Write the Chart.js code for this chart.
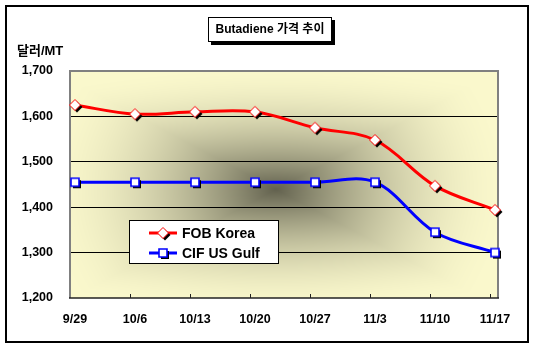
<!DOCTYPE html>
<html>
<head>
<meta charset="utf-8">
<script src="https://cdn.jsdelivr.net/npm/chart.js@4.4.1/dist/chart.umd.min.js"></script>
<style>
html,body{margin:0;padding:0;background:#fff}
canvas{display:block}
</style>
</head>
<body>
<canvas id="chart" width="535" height="351"></canvas>
<script>
// data
const weeks = ['9/29','10/6','10/13','10/20','10/27','11/3','11/10','11/17'];
const fobKorea = [1625,1605,1610,1610,1575,1548,1447,1394];
const cifUsGulf = [1455,1455,1455,1455,1455,1455,1345,1300];
const yTicks = [1200,1300,1400,1500,1600,1700];
const seriesNames = ['FOB Korea','CIF US Gulf'];
const chartTitle = 'Butadiene 가격 추이';
const yUnit = '달러/MT';

const FONT = '"Liberation Sans", Arial, "Noto Sans CJK KR", sans-serif';

function $(id){return document.getElementById(id)}

// marker images with the little black drop shadow
function makeMarker(kind){
  const c = document.createElement('canvas'); c.width = 20; c.height = 20;
  const g = c.getContext('2d');
  function shape(ox, oy){
    g.beginPath();
    if(kind==='diamond'){
      g.moveTo(10+ox,4.5+oy); g.lineTo(15.5+ox,10+oy); g.lineTo(10+ox,15.5+oy); g.lineTo(4.5+ox,10+oy); g.closePath();
    } else {
      g.rect(6+ox,6+oy,8,8);
    }
  }
  shape(2,2); g.fillStyle = '#000'; g.fill();
  shape(0,0); g.fillStyle = '#fff'; g.fill();
  g.lineWidth = kind==='diamond' ? 1 : 1.6;
  g.strokeStyle = kind==='diamond' ? '#FF0000' : '#0000FF';
  g.stroke();
  return c;
}
const diamondImg = makeMarker('diamond');
const squareImg = makeMarker('square');

// "from center" shading of the plot area
const plotBg = {
  id:'plotBg',
  beforeDraw(chart){
    const {ctx, chartArea:a} = chart;
    const w = Math.round(a.right-a.left), h = Math.round(a.bottom-a.top);
    const off = document.createElement('canvas'); off.width = w; off.height = h;
    const octx = off.getContext('2d');
    const img = octx.createImageData(w,h);
    const light = [250,248,204], dark = [98,97,78];
    const cx = w*0.48, cy = h*0.52;
    for(let y=0;y<h;y++){
      for(let x=0;x<w;x++){
        const u = (x-cx)/(w/2), v = (y-cy)/(h/2);
        const rect = Math.max(Math.abs(u),Math.abs(v));
        const ell = Math.sqrt(u*u+v*v)/1.25;
        const r = 0.55*rect + 0.45*ell;
        const t = Math.pow(Math.max(0,1-r),1.8);
        const i = (y*w+x)*4;
        img.data[i]   = light[0]+(dark[0]-light[0])*t;
        img.data[i+1] = light[1]+(dark[1]-light[1])*t;
        img.data[i+2] = light[2]+(dark[2]-light[2])*t;
        img.data[i+3] = 255;
      }
    }
    octx.putImageData(img,0,0);
    ctx.save();
    ctx.fillStyle = '#fff';
    ctx.fillRect(0,0,chart.width,chart.height);
    ctx.drawImage(off, a.left, a.top);
    ctx.restore();
  }
};

// plot frame and the small tick marks on the date axis
const frame = {
  id:'frame',
  beforeDatasetsDraw(chart){
    const {ctx, chartArea:a, scales} = chart;
    ctx.save();
    ctx.strokeStyle = '#808080'; ctx.lineWidth = 2;
    ctx.beginPath();
    ctx.moveTo(a.left, a.bottom); ctx.lineTo(a.left, a.top); ctx.lineTo(a.right, a.top); ctx.lineTo(a.right, a.bottom);
    ctx.stroke();
    ctx.strokeStyle = '#222'; ctx.lineWidth = 1.5;
    ctx.beginPath(); ctx.moveTo(a.left-1, a.bottom); ctx.lineTo(a.right+1, a.bottom); ctx.stroke();
    ctx.lineWidth = 1;
    for(let i=1;i<weeks.length;i++){
      const x = Math.round(scales.x.getPixelForValue(i-1/12))+0.5;
      ctx.beginPath(); ctx.moveTo(x, a.bottom-4); ctx.lineTo(x, a.bottom); ctx.stroke();
    }
    ctx.restore();
  }
};

// title box, unit label, legend, outer border
const decor = {
  id:'decor',
  afterDraw(chart){
    const ctx = chart.ctx;
    ctx.save();
    // outer border
    ctx.strokeStyle = '#000'; ctx.lineWidth = 2;
    ctx.strokeRect(6,6,522,336);
    // title
    ctx.fillStyle = '#000'; ctx.fillRect(211,20,124,25);
    ctx.fillStyle = '#fff'; ctx.fillRect(208,17,124,25);
    ctx.lineWidth = 1; ctx.strokeRect(208.5,17.5,123,24);
    ctx.fillStyle = '#000';
    ctx.font = 'bold 12px ' + FONT;
    ctx.textAlign = 'center'; ctx.textBaseline = 'middle';
    ctx.fillText(chartTitle, 270, 30);
    // y unit
    ctx.font = 'bold 13px ' + FONT;
    ctx.textAlign = 'left';
    ctx.fillText(yUnit, 17, 51);
    // legend
    ctx.fillStyle = '#fff'; ctx.fillRect(129,220,150,44);
    ctx.strokeStyle = '#000'; ctx.lineWidth = 1; ctx.strokeRect(129.5,220.5,149,43);
    const rows = [
      {name:seriesNames[0], color:'#FF0000', img:diamondImg, y:233},
      {name:seriesNames[1], color:'#0000FF', img:squareImg, y:253}
    ];
    rows.forEach(r=>{
      ctx.strokeStyle = r.color; ctx.lineWidth = 3;
      ctx.beginPath(); ctx.moveTo(149,r.y); ctx.lineTo(177,r.y); ctx.stroke();
      ctx.drawImage(r.img, 153, r.y-10);
      ctx.fillStyle = '#000';
      ctx.font = 'bold 14px ' + FONT;
      ctx.textAlign = 'left'; ctx.textBaseline = 'middle';
      ctx.fillText(r.name, 182, r.y+1);
    });
    ctx.restore();
  }
};

function series(values){ return values.map((v,i)=>({x:i, y:v})); }

new Chart($('chart').getContext('2d'), {
  type:'line',
  data:{
    datasets:[
      {label:seriesNames[0], data:series(fobKorea), borderColor:'#FF0000', borderWidth:3,
       pointStyle:diamondImg, pointRadius:6, tension:0.35, clip:false},
      {label:seriesNames[1], data:series(cifUsGulf), borderColor:'#0000FF', borderWidth:3,
       pointStyle:squareImg, pointRadius:6, tension:0.35, clip:false}
    ]
  },
  options:{
    responsive:false, animation:false, devicePixelRatio:1,
    layout:{padding:{left:0, top:71, right:37, bottom:0}},
    plugins:{legend:{display:false}, title:{display:false}, tooltip:{enabled:false}},
    scales:{
      x:{
        type:'linear', min:-1/12, max:7.05,
        afterBuildTicks(s){ s.ticks = weeks.map((_,i)=>({value:i})); },
        afterFit(s){ s.height = 53; },
        grid:{display:false, drawTicks:false},
        border:{display:false},
        ticks:{autoSkip:false, maxRotation:0, padding:14, color:'#000',
          font:{family:FONT, size:12.5, weight:'bold'},
          callback:v=>weeks[v]}
      },
      y:{
        min:1200, max:1700,
        afterBuildTicks(s){ s.ticks = yTicks.map(v=>({value:v})); },
        afterFit(s){ s.width = 70; },
        grid:{drawTicks:false, lineWidth:1,
          color:c=>(c.tick && (c.tick.value===1200 || c.tick.value===1700)) ? 'rgba(0,0,0,0)' : '#000'},
        border:{display:false},
        ticks:{padding:17, color:'#000',
          font:{family:FONT, size:12.5, weight:'bold'},
          callback:v=>v.toLocaleString('en-US')}
      }
    }
  },
  plugins:[plotBg, frame, decor]
});
</script>
</body>
</html>
